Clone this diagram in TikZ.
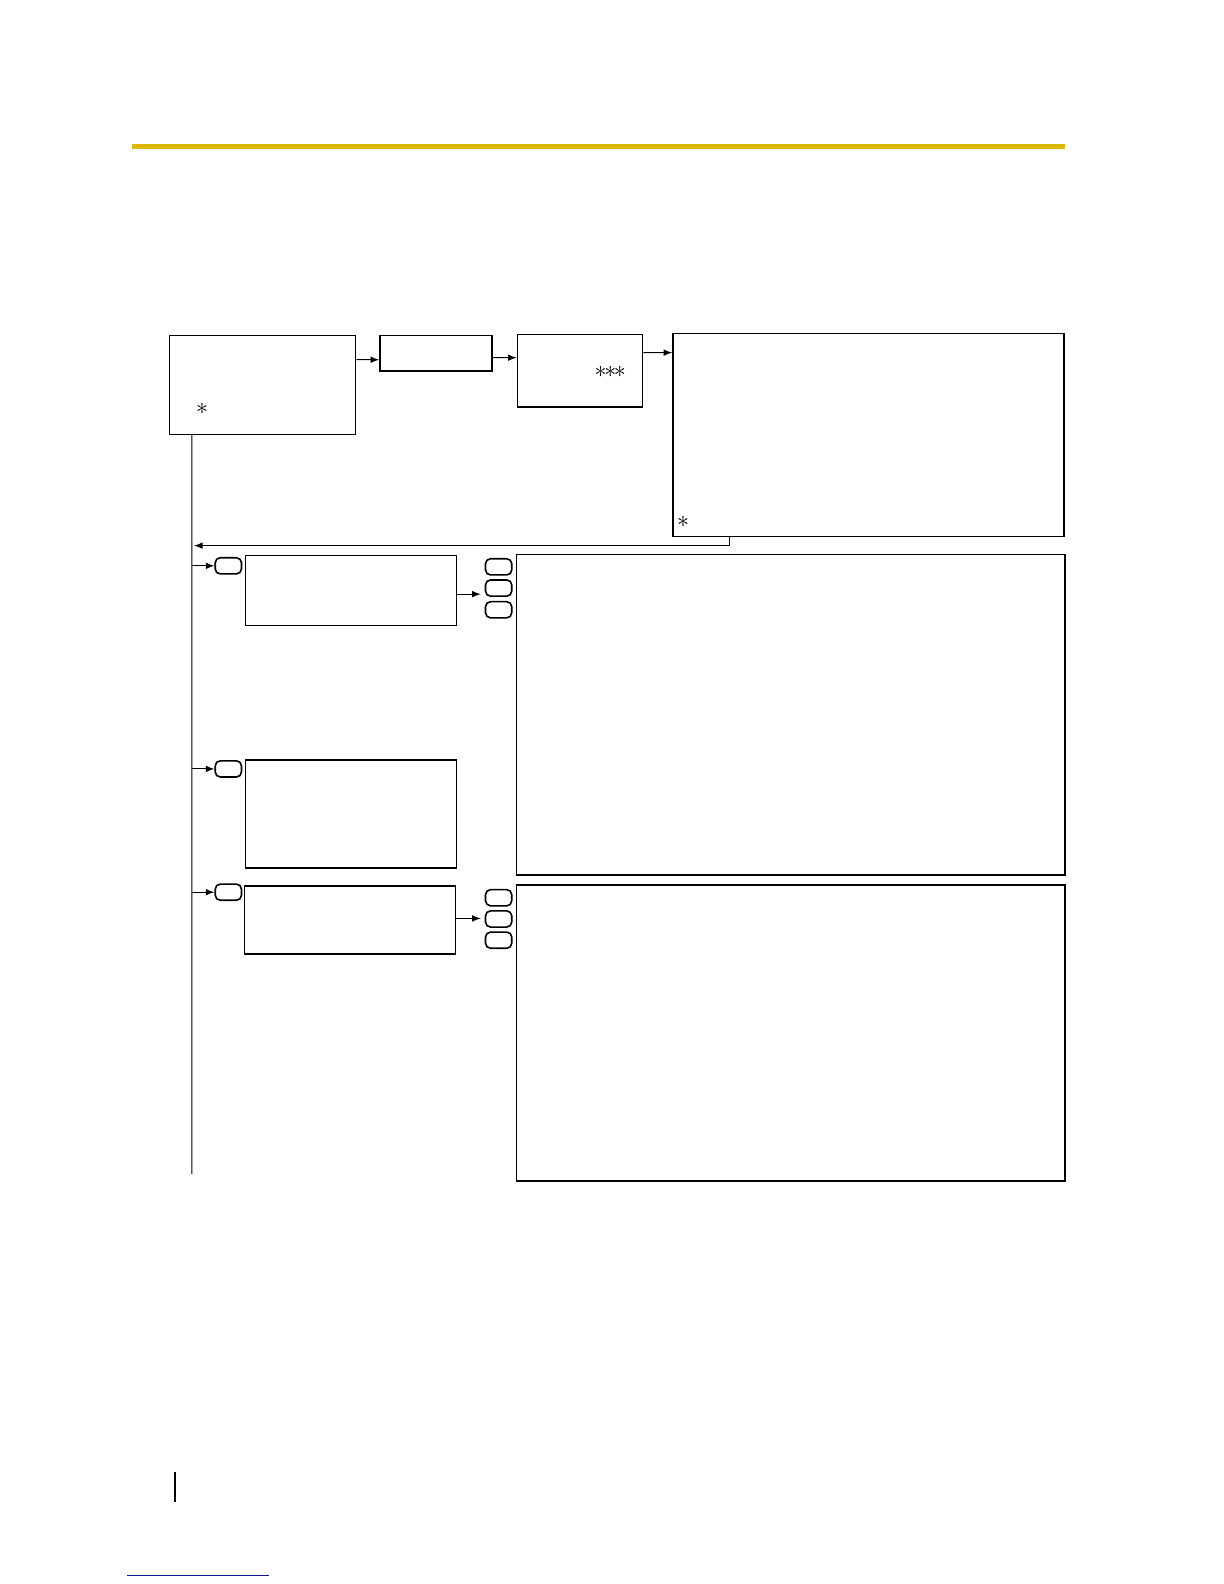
\documentclass[tikz,border=0pt]{standalone}
\usepackage{tikz}
\usetikzlibrary{arrows}
\definecolor{bandyellow}{RGB}{221,184,10}
\definecolor{linkblue}{RGB}{20,20,150}
\tikzset{
  box/.style={rectangle,draw,line width=0.7pt,inner sep=0pt},
  keycap/.style={rectangle,draw,line width=0.8pt,rounded corners=2.5pt,inner sep=0pt,minimum width=13.1pt,minimum height=8.1pt},
  flow/.style={line width=0.5pt,-latex}
}
\newcommand{\astmark}{\mathord{\ast}}
\begin{document}
\begin{tikzpicture}[x=0.5052pt,y=-0.5052pt]
\useasboundingbox (0,0) rectangle (1211.4,1567.7);
\draw[bandyellow,line width=2.5pt] (131,145)--(1054,145);
%top row
\path (260,381) node(a)[box,minimum width=92.96pt,minimum height=49.51pt]{}
(431.5,349.5) node(b)[box,minimum width=56.08pt,minimum height=17.68pt]{}
(574,367) node(c)[box,minimum width=62.64pt,minimum height=36.37pt]{}
(859.5,430.5) node(d)[box,minimum width=195.5pt,minimum height=101.5pt]{};
\path (200,405) node(sa){\large$\astmark$}
(604,368) node(sc){\large$\astmark\kern-1.2pt\astmark\kern-1.2pt\astmark$}
(676,517) node(sd){\large$\astmark$};
\draw[flow]([yshift=12.63pt]a.east)--([yshift=-3.28pt]b.west);
\draw[flow]([yshift=-2.27pt]b.east)--([yshift=6.57pt]c.west);
\draw[flow]([yshift=9.09pt]c.east)--([yshift=41.17pt]d.west);
%trunk
\coordinate (trunkend) at (190,1162);
\coordinate (ret) at (192,540);
\draw[line width=0.5pt]([xshift=-35.36pt]a.south)--(trunkend);
\draw[flow]([xshift=-69.47pt]d.south)|-(ret);
%branches
\path (226,560) node(k1)[keycap]{}
(226,761) node(k2)[keycap]{}
(226,883) node(k3)[keycap]{}
(347.5,584.5) node(e)[box,minimum width=105.6pt,minimum height=34.86pt]{}
(347.5,805.5) node(g)[box,minimum width=105.6pt,minimum height=54.06pt]{}
(346.5,910.5) node(h)[box,minimum width=105.6pt,minimum height=33.85pt]{}
(782.5,707.5) node(f)[box,minimum width=274.3pt,minimum height=160.1pt]{}
(782.5,1022.5) node(i)[box,minimum width=274.3pt,minimum height=148pt]{};
\path (493.5,561) node(ka)[keycap]{}
(493.5,582) node(kb)[keycap]{}
(493.5,603.5) node(kc)[keycap]{}
(493.5,888.5) node(kd)[keycap]{}
(493.5,909.5) node(ke)[keycap]{}
(493.5,930.5) node(kf)[keycap]{};
\draw[flow](k1.west-|trunkend)--(k1.west);
\draw[flow](k2.west-|trunkend)--(k2.west);
\draw[flow](k3.west-|trunkend)--(k3.west);
\draw[flow]([yshift=-1.77pt]e.east)--([xshift=-2pt,yshift=-1.77pt]e.east-|kb.west);
\draw[flow]([yshift=0.76pt]h.east)--([xshift=-2pt,yshift=0.76pt]h.east-|ke.west);
%page marks
\draw[line width=1pt](173,1457)--(173,1487);
\draw[linkblue,line width=0.6pt](125.7,1559)--(266,1559);
\end{tikzpicture}
\end{document}
